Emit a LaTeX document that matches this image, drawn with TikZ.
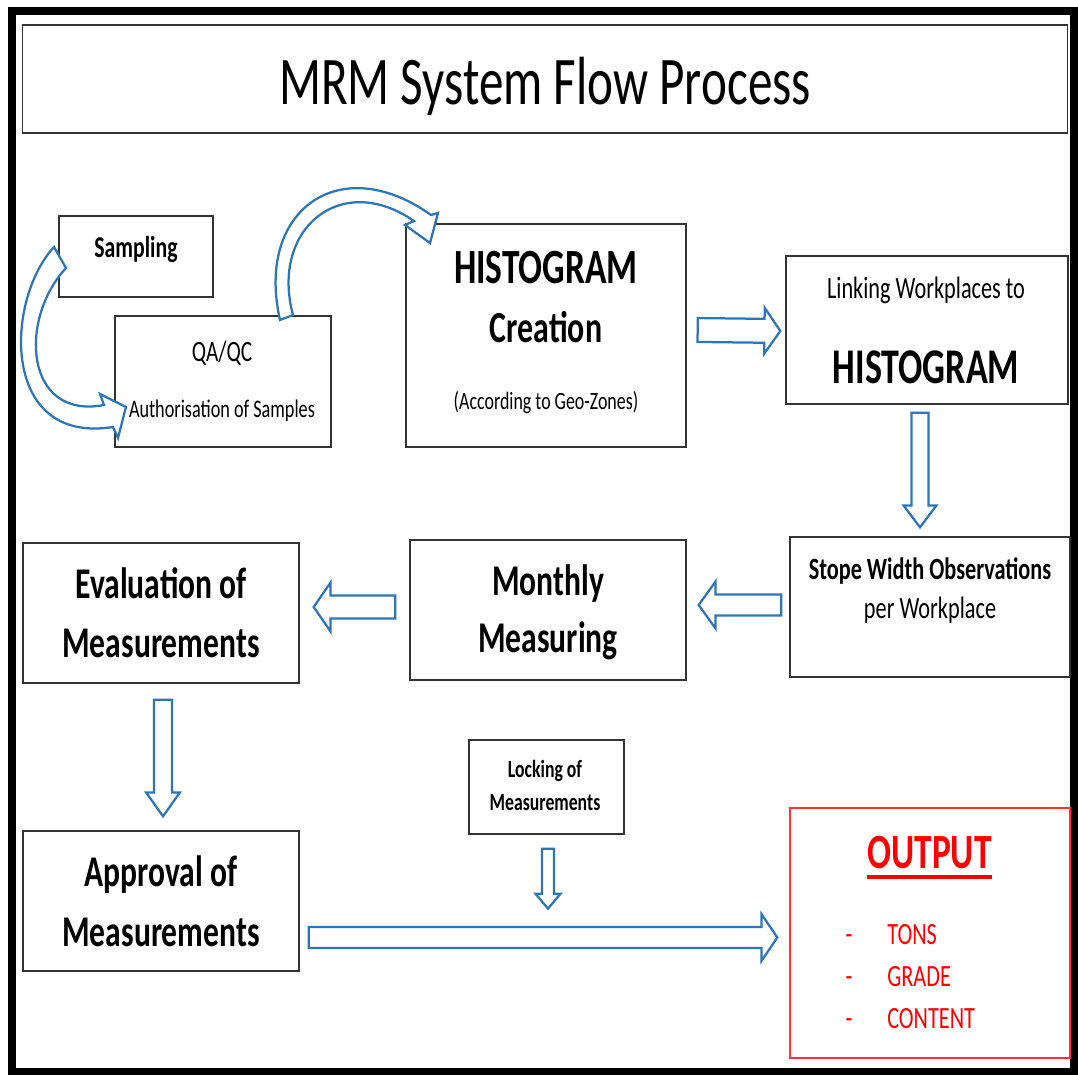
\documentclass[tikz,border=0pt]{standalone}
\usepackage{fontspec}
\setmainfont{Carlito}[FakeStretch=0.72]
\usetikzlibrary{calc}
\definecolor{arrowblue}{RGB}{46,117,182}
\definecolor{outred}{RGB}{255,0,0}

\begin{document}
\begin{tikzpicture}
        [x=0.025cm, y=-0.025cm,
         box/.style 2 args={draw=black!80, line width=0.9pt, minimum width=#1, minimum height=#2},
         txt/.style={inner sep=0pt, anchor=base, font=\fontsize{#1}{#1}\selectfont},
         btxt/.style={inner sep=0pt, anchor=base, font=\fontsize{#1}{#1}\selectfont\bfseries},
         flow/.style={draw=arrowblue, line width=1.6pt, fill=white, line join=miter},
         blk/.style n args={3}{flow, to path={
            let \p1=(\tikztostart), \p2=(\tikztotarget),
                \n1={atan2(\y2-\y1,\x2-\x1)}, \n2={veclen(\x2-\x1,\y2-\y1)} in
            ($(\p1)+(\n1+90:#1)$) -- ($(\p1)+(\n1:\n2-#3)+(\n1+90:#1)$)
            -- ($(\p1)+(\n1:\n2-#3)+(\n1+90:#2)$) -- (\p2)
            -- ($(\p1)+(\n1:\n2-#3)+(\n1-90:#2)$) -- ($(\p1)+(\n1:\n2-#3)+(\n1-90:#1)$)
            -- ($(\p1)+(\n1-90:#1)$) -- cycle}}]

        \useasboundingbox (0,0) rectangle (1078,1075);
        \draw[line width=5.7pt] (12,11) rectangle (1074,1072);

        \node[box={26.1cm}{2.7cm}] (title) at (545,79) {};
        \node[box={3.85cm}{2.025cm}] (samp) at (136,256.5) {};
        \node[box={5.4cm}{3.275cm}] (qaqc) at (223,381.5) {};
        \node[box={7cm}{5.575cm}] (hist) at (546,335.5) {};
        \node[box={7.05cm}{3.7cm}] (link) at (927,330) {};
        \node[box={7cm}{3.5cm}] (stope) at (930,607) {};
        \node[box={6.9cm}{3.5cm}] (month) at (548,610) {};
        \node[box={6.9cm}{3.5cm}] (evalm) at (161,613) {};
        \node[box={6.9cm}{3.5cm}] (appr) at (161,901) {};
        \node[box={3.875cm}{2.35cm}] (lock) at (546.5,787) {};
        \node[box={7cm}{6.25cm}, draw=outred!80] (outp) at (930,933) {};

        \node[txt=48.5] (title-t) at (545,105) {MRM System Flow Process};
        \node[btxt=21.5] (samp-t) at (136,258) {Sampling};
        \node[txt=21] (qaqc-t1) at (222,362) {QA/QC};
        \node[txt=18] (qaqc-t2) at (222,418) {Authorisation of Samples};
        \node[btxt=35] (hist-t1) at (546,284) {HISTOGRAM};
        \node[btxt=31.5] (hist-t2) at (546,343) {Creation};
        \node[txt=17.7] (hist-t3) at (546,410) {(According to Geo-Zones)};
        \node[txt=22] (link-t1) at (926,299) {Linking Workplaces to};
        \node[btxt=35.5] (link-t2) at (926,384) {HISTOGRAM};
        \node[btxt=22] (stope-t1) at (930,579) {Stope Width Observations};
        \node[txt=22] (stope-t2) at (930,618) {per Workplace};
        \node[btxt=31.2] (month-t1) at (548,595) {Monthly};
        \node[btxt=31.2] (month-t2) at (548,652) {Measuring};
        \node[btxt=31.2] (evalm-t1) at (161,598) {Evaluation of};
        \node[btxt=31.2] (evalm-t2) at (161,657) {Measurements};
        \node[btxt=31.2] (appr-t1) at (161,886) {Approval of};
        \node[btxt=31.2] (appr-t2) at (161,946) {Measurements};
        \node[btxt=17.5] (lock-t1) at (545,777) {Locking of};
        \node[btxt=17.5] (lock-t2) at (545,810) {Measurements};
        \node[btxt=35, text=outred] (outp-t) at (929.5,868) {OUTPUT};
        \draw[outred, line width=2.4pt] ([yshift=-6.4pt]outp-t.base west) -- ([yshift=-6.4pt]outp-t.base east);

        \foreach \w [count=\i] in {TONS, GRADE, CONTENT} {
            \node[txt=22, text=outred] (dash-\i) at (849,902+\i*42) {-};
            \node[txt=22, text=outred, anchor=base west] (item-\i) at (887,902+\i*42) {\w};
        }

        \draw[blk={8.5pt}{16.3pt}{11.3pt}] ([shift={(11,-5.5)}]hist.east) to ([shift={(-5,1)}]link.west);
        \draw[blk={6pt}{11.7pt}{15.6pt}] ([shift={(-7,8)}]link.south) to ([shift={(-10,-9)}]stope.north);
        \draw[blk={7.4pt}{16.7pt}{12pt}] ([shift={(-8,-2)}]stope.west) to ([shift={(12,-5)}]month.east);
        \draw[blk={8.2pt}{17.4pt}{12pt}] ([shift={(-14,-3)}]month.west) to ([shift={(14,-6)}]evalm.east);
        \draw[blk={6.4pt}{12pt}{17pt}] ([shift={(2,16)}]evalm.south) to ([shift={(2,-14)}]appr.north);
        \draw[blk={4.3pt}{8.9pt}{10.6pt}] ([shift={(1.5,14)}]lock.south) to ([shift={(1.5,74)}]lock.south);
        \draw[blk={7.4pt}{16.7pt}{11.3pt}] ([shift={(9,36.5)}]appr.east) to ([shift={(-12,4.5)}]outp.west);

        \draw[flow] (54,247) .. controls (5,300) and (0,445) .. (113,427) -- (118,438) -- (126,407)
            -- (100,394) -- (104,405) .. controls (25,420) and (18,320) .. (66,268) -- cycle;
        \draw[flow] (280,320) .. controls (255,210) and (340,150) .. (431,215) -- (438,213) -- (430,243)
            -- (405,225) -- (414,221) .. controls (340,170) and (270,230) .. (293,315) -- cycle;

    \end{tikzpicture}
\end{document}
